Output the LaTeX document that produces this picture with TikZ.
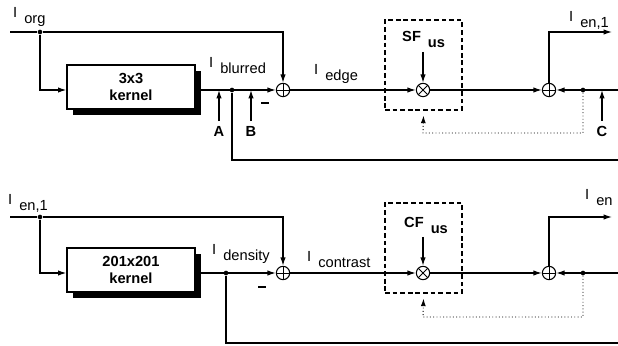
\documentclass[tikz,border=0pt]{standalone}
\usepackage{fontspec}
\setmainfont{Liberation Sans}
\usetikzlibrary{arrows.meta, positioning, shadows}
\newcommand{\sigsub}[2]{#1\hspace{6pt}\raisebox{-4.5pt}{#2}}
\tikzset{
  kernelbox/.style={rectangle, draw, line width=1pt, fill=white,
                    minimum width=3.84cm, minimum height=1.32cm, align=center,
                    font=\fontsize{12.5}{14}\selectfont\bfseries,
                    drop shadow={shadow xshift=0.19cm, shadow yshift=-0.19cm,
                                 fill=black, opacity=1}},
  gainbox/.style={rectangle, draw, dash pattern=on 4pt off 2.5pt, line width=0.9pt,
                  minimum width=2.31cm, minimum height=2.7cm},
  sumnode/.style={circle, draw, line width=0.9pt, minimum size=0.4cm, inner sep=0,
                  path picture={\draw[line width=0.8pt]
                    (path picture bounding box.north) -- (path picture bounding box.south)
                    (path picture bounding box.west) -- (path picture bounding box.east);}},
  prodnode/.style={circle, draw, line width=0.9pt, minimum size=0.4cm, inner sep=0,
                   path picture={\draw[line width=0.8pt]
                     (path picture bounding box.north west) -- (path picture bounding box.south east)
                     (path picture bounding box.south west) -- (path picture bounding box.north east);}},
  junction/.style={circle, fill, inner sep=0, minimum size=0.14cm},
  sig/.style={line width=1pt},
  sigarrow/.style={->, line width=1pt, >={Latex[length=2.5mm,width=1.6mm]}},
  dotlink/.style={->, dotted, line width=0.8pt, >={Latex[length=2.3mm,width=1.5mm]}},
  siglabel/.style={anchor=base west, inner sep=0, font=\fontsize{12.5}{14}\selectfont},
  gainlabel/.style={anchor=base west, inner sep=0, font=\fontsize{12.5}{14}\selectfont\bfseries},
  tagtext/.style={inner sep=4pt, font=\fontsize{12.5}{14}\selectfont\bfseries},
  negsign/.style={fill, inner sep=0, minimum width=0.22cm, minimum height=0.05cm},
}

\begin{document}
\begin{tikzpicture}[x=0.03cm, y=-0.03cm]
  \useasboundingbox (0,0) rectangle (618,346);

  % --- Edge enhancement stage ---
  \node[kernelbox] (k1) at (131,87) {3x3\\kernel};
  \node[sumnode]   (s1) at (283,90) {};
  \node[gainbox]   (g1) at (423.5,65) {};
  \node[prodnode]  (m1) at (423,90) {};
  \node[sumnode]   (s2) at (549,90) {};

  \coordinate (in1) at (10,32);
  \node[junction] (j1) at (40,32) {};
  \node[junction] (d1) at (232,90) {};
  \node[junction] (d2) at (583,90) {};
  \coordinate (r1)  at (618,90);
  \coordinate (o1)  at (612,32);
  \coordinate (fb1) at (618,160);
  \coordinate (q1)  at (423,133);
  \coordinate (u1)  at (423,52);
  \coordinate (pA)  at (219,90);
  \coordinate (pB)  at (251,90);
  \coordinate (pC)  at (602,90);

  \node[siglabel]  (lorg)  at (13,18)  {\sigsub{I}{org}};
  \node[siglabel]  (lblur) at (209,68) {\sigsub{I}{blurred}};
  \node[siglabel]  (ledge) at (314,75) {\sigsub{I}{edge}};
  \node[siglabel]  (lout1) at (569,22) {\sigsub{I}{en,1}};
  \node[gainlabel] (lsf)   at (402,42) {\sigsub{SF}{us}};
  \node[tagtext]   (lA) at (219,131) {A};
  \node[tagtext]   (lB) at (251,131) {B};
  \node[tagtext]   (lC) at (602,131) {C};
  \node[negsign]   (neg1) at (265,103) {};

  % Signal paths
  \draw[sig] (in1) -- (j1);
  \draw[sigarrow] (j1) -| (s1.north);
  \draw[sigarrow] (j1) |- (k1.west |- s1);
  \draw[sigarrow] (k1.east |- s1) -- (s1.west);
  \draw[sig] (d1) |- (fb1);
  \draw[sigarrow] (s1) -- (m1);
  \draw[sigarrow] (u1) -- (m1.north);
  \draw[sigarrow] (m1) -- (s2);
  \draw[sigarrow] (s2.north) |- (o1);
  \draw[sigarrow] (r1) -- (s2.east);
  \draw[dotlink] (d2) |- (q1) -- ([yshift=-0.15cm]g1.south);
  \foreach \t/\p in {lA/pA, lB/pB, lC/pC} {
    \draw[sigarrow] (\t.north) -- (\p);
  }

  % --- Contrast enhancement stage ---
  \node[kernelbox] (k2) at (131,270) {201x201\\kernel};
  \node[sumnode]   (s3) at (283,273) {};
  \node[gainbox]   (g2) at (423.5,248) {};
  \node[prodnode]  (m2) at (423,273) {};
  \node[sumnode]   (s4) at (549,273) {};

  \coordinate (in2) at (10,217);
  \node[junction] (j2) at (40,217) {};
  \node[junction] (d3) at (226,273) {};
  \node[junction] (d4) at (583,273) {};
  \coordinate (r2)  at (618,273);
  \coordinate (o2)  at (612,217);
  \coordinate (fb2) at (618,343);
  \coordinate (q2)  at (423,317);
  \coordinate (u2)  at (423,237);

  \node[siglabel]  (lin2)  at (8,205)   {\sigsub{I}{en,1}};
  \node[siglabel]  (ldens) at (212,255) {\sigsub{I}{density}};
  \node[siglabel]  (lcont) at (307,262) {\sigsub{I}{contrast}};
  \node[siglabel]  (lout2) at (585,200) {\sigsub{I}{en}};
  \node[gainlabel] (lcf)   at (404,228) {\sigsub{CF}{us}};
  \node[negsign]   (neg2) at (262,287) {};

  % Signal paths
  \draw[sig] (in2) -- (j2);
  \draw[sigarrow] (j2) -| (s3.north);
  \draw[sigarrow] (j2) |- (k2.west |- s3);
  \draw[sigarrow] (k2.east |- s3) -- (s3.west);
  \draw[sig] (d3) |- (fb2);
  \draw[sigarrow] (s3) -- (m2);
  \draw[sigarrow] (u2) -- (m2.north);
  \draw[sigarrow] (m2) -- (s4);
  \draw[sigarrow] (s4.north) |- (o2);
  \draw[sigarrow] (r2) -- (s4.east);
  \draw[dotlink] (d4) |- (q2) -- ([yshift=-0.15cm]g2.south);

\end{tikzpicture}
\end{document}
